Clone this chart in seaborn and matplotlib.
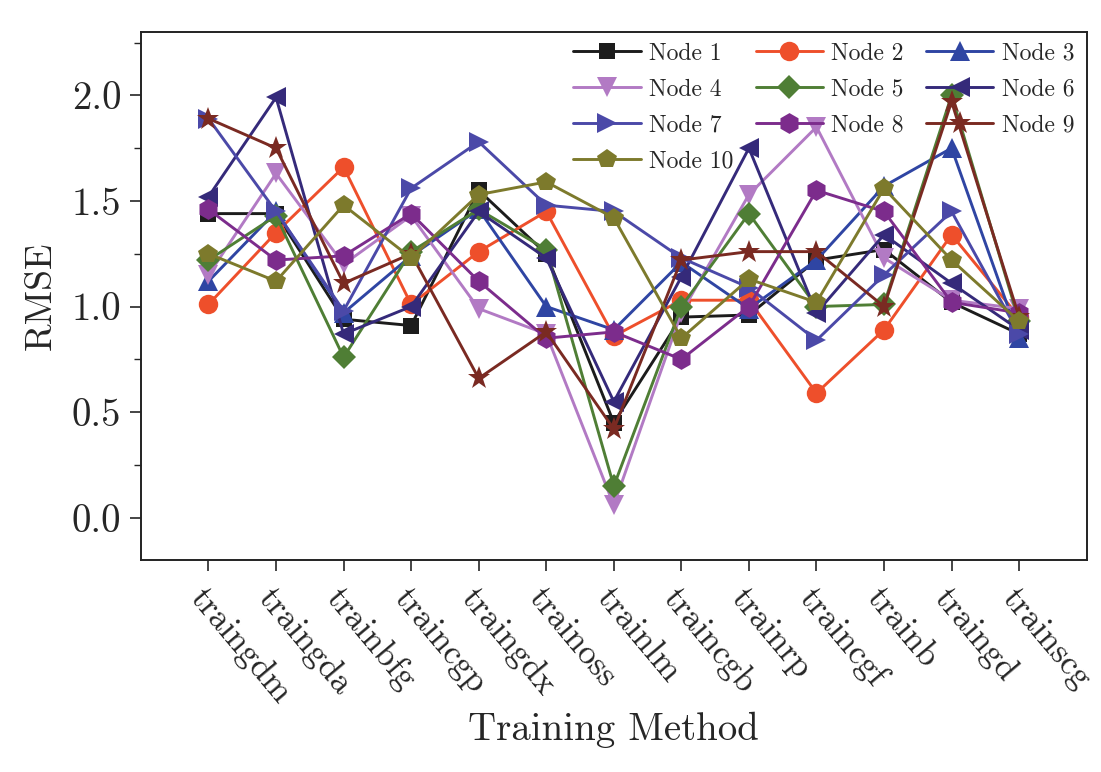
import numpy as np
import pandas as pd
import matplotlib
matplotlib.use("Agg")
import matplotlib.pyplot as plt
import seaborn as sns
from matplotlib.ticker import MultipleLocator, FormatStrFormatter

methods = ["traingdm", "traingda", "trainbfg", "traincgp", "traingdx", "trainoss",
           "trainlm", "traincgb", "trainrp", "traincgf", "trainb", "traingd", "trainscg"]

node1 = [1.44, 1.44, 0.94, 0.91, 1.55, 1.25, 0.45, 0.95, 0.96, 1.22, 1.27, 1.02, 0.87]
node2 = [1.01, 1.35, 1.66, 1.01, 1.26, 1.45, 0.86, 1.03, 1.03, 0.59, 0.89, 1.34, 0.95]
node3 = [1.12, 1.45, 0.97, 1.24, 1.46, 1.00, 0.89, 1.21, 0.99, 1.22, 1.57, 1.75, 0.85]
node4 = [1.15, 1.63, 1.20, 1.43, 0.99, 0.87, 0.06, 0.97, 1.53, 1.85, 1.23, 1.03, 0.99]
node5 = [1.22, 1.43, 0.76, 1.26, 1.46, 1.27, 0.15, 1.00, 1.44, 1.00, 1.01, 2.00, 0.93]
node6 = [1.52, 1.99, 0.87, 1.00, 1.45, 1.23, 0.55, 1.14, 1.75, 0.97, 1.34, 1.11, 0.89]
node7 = [1.89, 1.45, 0.98, 1.56, 1.78, 1.48, 1.45, 1.23, 1.09, 0.84, 1.15, 1.45, 0.87]
node8 = [1.46, 1.22, 1.24, 1.44, 1.12, 0.85, 0.88, 0.75, 1.00, 1.55, 1.45, 1.02, 0.97]
node9 = [1.89, 1.75, 1.11, 1.25, 0.66, 0.88, 0.42, 1.22, 1.26, 1.26, 1.00, 1.97, 0.95]
node10 = [1.25, 1.12, 1.48, 1.23, 1.53, 1.59, 1.42, 0.85, 1.13, 1.02, 1.56, 1.22, 0.93]

node_names = ["Node 1", "Node 2", "Node 3", "Node 4", "Node 5",
              "Node 6", "Node 7", "Node 8", "Node 9", "Node 10"]
series = [node1, node2, node3, node4, node5, node6, node7, node8, node9, node10]

colors = ["#1c1c1c", "#ee4f2b", "#2f45a3", "#b27ac4", "#4f7e35",
          "#352a7a", "#4b49a8", "#7c2c8c", "#7a2a22", "#7d7a2c"]
markers = ["s", "o", "^", "v", "D", "<", ">", "h", "*", "p"]
msizes = [12, 14, 14, 14, 12, 15, 15, 15, 17, 15]

rows = []
for name, vals in zip(node_names, series):
    for i, v in enumerate(vals):
        rows.append({"Method": i, "RMSE": v, "Node": name})
df = pd.DataFrame(rows)

sns.set_style("ticks")
plt.rcParams["font.family"] = ["cmr10", "DejaVu Serif"]
plt.rcParams["axes.formatter.use_mathtext"] = True
plt.rcParams["mathtext.fontset"] = "cm"

fig = plt.figure(figsize=(11.01, 7.72), dpi=100)
ax = fig.add_axes([0.128, 0.2746, 0.859, 0.684])

pal = dict(zip(node_names, colors))
mk = dict(zip(node_names, markers))
sns.lineplot(data=df, x="Method", y="RMSE", hue="Node", style="Node",
             hue_order=node_names, style_order=node_names,
             palette=pal, markers=mk, dashes=False, linewidth=2.1,
             markersize=12, markeredgewidth=0, ax=ax, legend=True)

for line, ms in zip(ax.get_lines(), msizes):
    line.set_markersize(ms)

ax.set_xlim(-1, 13)
ax.set_ylim(-0.2, 2.3)
ax.set_xticks(range(len(methods)))
ax.set_xticklabels(methods, rotation=-50, ha="left", rotation_mode="anchor", fontsize=25)
ax.yaxis.set_major_locator(MultipleLocator(0.5))
ax.yaxis.set_minor_locator(MultipleLocator(0.25))
ax.yaxis.set_major_formatter(FormatStrFormatter("%.1f"))
ax.tick_params(axis="y", labelsize=28, direction="out", length=8, width=1.2, pad=6)
ax.tick_params(axis="y", which="minor", direction="out", length=5, width=1.0)
ax.tick_params(axis="x", direction="out", length=8, width=1.2, pad=8)
ax.set_xlabel("Training Method", fontsize=28, labelpad=2)
ax.set_ylabel("RMSE", fontsize=27, labelpad=10)
for sp in ax.spines.values():
    sp.set_visible(True)
    sp.set_linewidth(1.4)
    sp.set_color("#222222")

handles, labels = ax.get_legend_handles_labels()
hmap = dict(zip(labels, handles))
order = [0, 3, 6, 9, 1, 4, 7, 2, 5, 8]
hs = [hmap[node_names[i]] for i in order]
ls = [node_names[i] for i in order]
for h, i in zip(hs, order):
    h.set_markersize(msizes[i])
    h.set_markeredgewidth(0)
ax.legend(hs, ls, ncol=3, loc="upper right", bbox_to_anchor=(0.998, 1.0),
          frameon=False, fontsize=17, handlelength=2.85, columnspacing=0.95,
          labelspacing=0.58, handletextpad=0.35, borderaxespad=0.05)

fig.savefig("out.png", dpi=100)
